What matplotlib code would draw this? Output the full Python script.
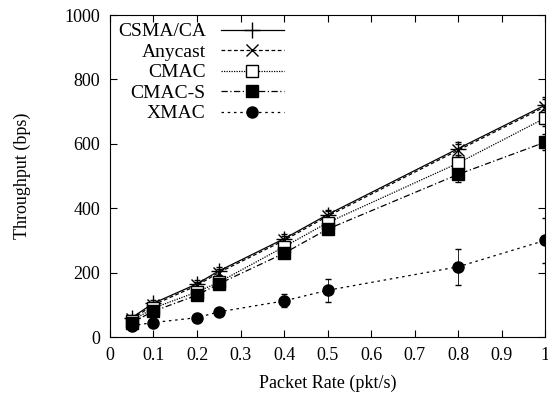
import matplotlib
matplotlib.use('Agg')
from matplotlib import pyplot as plt
from matplotlib.lines import Line2D

plt.rcParams['font.family'] = ['Liberation Serif', 'DejaVu Serif']
plt.rcParams['font.size'] = 13

# 数据
rate = [0.05, 0.1, 0.2, 0.25, 0.4, 0.5, 0.8, 1.0]
names = ['CSMA/CA', 'Anycast', 'CMAC', 'CMAC-S', 'XMAC']
csma = [60, 105, 165, 205, 305, 380, 585, 720]
anycast = [55, 100, 160, 200, 300, 375, 580, 715]
cmac = [50, 90, 140, 170, 280, 355, 540, 680]
cmac_s = [45, 80, 130, 165, 260, 335, 505, 605]
xmac = [35, 45, 60, 78, 112, 145, 218, 300]
csma_err = [8, 10, 12, 12, 15, 15, 20, 25]
anycast_err = [8, 10, 12, 12, 15, 15, 20, 25]
cmac_err = [8, 10, 12, 12, 15, 15, 20, 25]
cmac_s_err = [8, 10, 12, 12, 15, 15, 25, 25]
xmac_err = [8, 8, 8, 10, 20, 35, 55, 70]

series = [csma, anycast, cmac, cmac_s, xmac]
errs = [csma_err, anycast_err, cmac_err, cmac_s_err, xmac_err]
styles = [
    dict(ls='-', marker='+', mfc='k', ms=11),
    dict(ls=(0, (3, 2)), marker='x', mfc='k', ms=9),
    dict(ls=(0, (1, 1)), marker='s', mfc='white', ms=9),
    dict(ls=(0, (5, 2, 1, 2)), marker='s', mfc='k', ms=9),
    dict(ls=(0, (2, 3)), marker='o', mfc='k', ms=8),
]

fig = plt.figure(figsize=(5.48, 4), dpi=100)
ax = fig.add_axes([0.2007, 0.1575, 0.794, 0.805])

handles = []
for y, e, st in zip(series, errs, styles):
    ax.errorbar(rate, y, yerr=e, color='k', lw=0.9, ls=st['ls'], marker=st['marker'],
                mfc=st['mfc'], mec='k', ms=st['ms'], capsize=2, elinewidth=0.6, mew=1)
    handles.append(Line2D([], [], color='k', lw=0.9, ls=st['ls'], marker=st['marker'],
                          mfc=st['mfc'], mec='k', ms=st['ms'], mew=1))

ax.set_xlim(0, 1)
ax.set_ylim(0, 1000)
ax.set_xticks([i / 10 for i in range(11)])
ax.set_xticklabels(['0', '0.1', '0.2', '0.3', '0.4', '0.5', '0.6', '0.7', '0.8', '0.9', '1'])
ax.set_yticks(range(0, 1001, 200))
ax.tick_params(direction='in', top=True, right=True, length=5, pad=7)
ax.set_xlabel('Packet Rate (pkt/s)', labelpad=8)
ax.set_ylabel('Throughput (bps)', labelpad=24)

ax.legend(handles, names, loc='upper left', frameon=False, markerfirst=False,
          handlelength=3.2, labelspacing=0.15, borderaxespad=0.0, handletextpad=0.8,
          fontsize=14)

fig.savefig('out.png')
